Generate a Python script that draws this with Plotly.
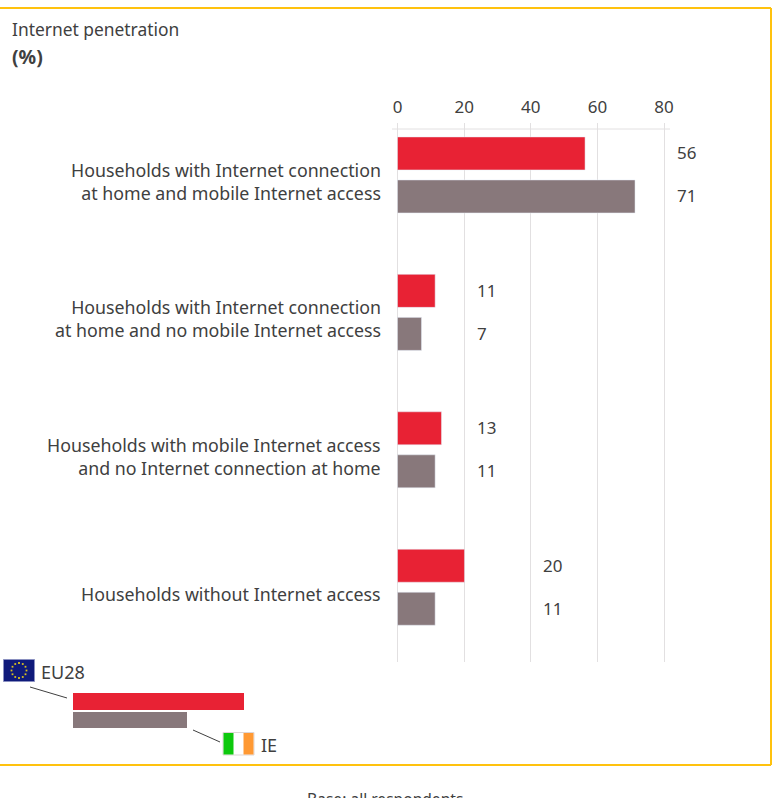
import plotly.graph_objects as go
import math

W, H = 772, 798
categories = ["Households with Internet connection<br>at home and mobile Internet access",
              "Households with Internet connection<br>at home and no mobile Internet access",
              "Households with mobile Internet access<br>and no Internet connection at home",
              "Households without Internet access"]
eu28 = [56.3, 11.3, 13.2, 20.1]
ie = [71.3, 7.2, 11.3, 11.3]
x_ticks = [0, 20, 40, 60, 80]
RED, GREY = "#E82234", "#88787B"
TXT = "#404040"
GRID = "#E2E0E1"
GOLD = "#FFC20E"
FONT = "Noto Sans"

L, R, T, B = 395, 667, 123, 662


def P(x):
    return (x - L) / (R - L)


def Q(y):
    return (B - y) / (B - T)


fig = go.Figure()
fig.add_bar(y=categories, x=eu28, orientation="h", marker=dict(color=RED), name="EU28")
fig.add_bar(y=categories, x=ie, orientation="h", marker=dict(color=GREY), name="IE")

shapes = []


def rect(x0, y0, x1, y1, fill, line=None, lw=0):
    shapes.append(dict(type="rect", xref="paper", yref="paper", x0=P(x0), x1=P(x1), y0=Q(y0), y1=Q(y1),
                       fillcolor=fill, line=dict(color=line or fill, width=lw), layer="above"))


def seg(x0, y0, x1, y1, color, w=1):
    shapes.append(dict(type="line", xref="paper", yref="paper", x0=P(x0), x1=P(x1), y0=Q(y0), y1=Q(y1),
                       line=dict(color=color, width=w), layer="above"))


# frame: top, right and bottom only
seg(0, 8, 771, 8, GOLD, 2)
seg(771, 8, 771, 765, GOLD, 2)
seg(0, 765, 771, 765, GOLD, 2)
# axis line
seg(392, 129, 670, 129, GRID, 1)
# legend key
seg(30, 687, 67, 698, "#404040", 1)
seg(193, 730, 220, 742, "#404040", 1)
rect(73, 693, 244, 710, RED)
rect(73, 712, 187, 728, GREY)
# EU flag
rect(3.5, 659.5, 34.5, 681.5, "#0F1A7A", "#8A90C0", 1)
for i in range(12):
    a = i * math.pi / 6
    cx, cy = 19 + 7.5 * math.cos(a), 670.5 + 7.5 * math.sin(a)
    rect(cx - 0.9, cy - 0.9, cx + 0.9, cy + 0.9, "#D8C020")
# IE flag
rect(223, 732.5, 254, 755, "#FFFFFF", "#DDD5D5", 1)
rect(223.5, 733, 233.5, 754.5, "#0DC90D")
rect(243.5, 733, 253.5, 754.5, "#FF9933")

ann = []


def text(x, y, s, anchor="left", size=18, bold=False):
    ann.append(dict(xref="paper", yref="paper", x=P(x), y=Q(y), text=f"<b>{s}</b>" if bold else s, showarrow=False,
                    xanchor=anchor, yanchor="middle", font=dict(family=FONT, size=size, color=TXT), align=anchor))


text(10, 28.5, "Internet penetration", size=17.4)
text(10, 56.5, "(%)", bold=True, size=19.5)
text(39, 671.5, "EU28", size=18)
text(259, 744.5, "IE", size=18)
text(385, 799, "Base: all respondents", anchor="center", size=15.6)

# category labels
for cat in categories:
    ann.append(dict(x=0, y=cat, xref="x", yref="y", text=cat, showarrow=False, xanchor="right", yanchor="middle",
                    align="right", xshift=-15, yshift=-6.5, font=dict(family=FONT, size=17.8, color=TXT)))

# value labels sit just right of the first gridline beyond the group's larger value
for cat, a, b in zip(categories, eu28, ie):
    tick = (max(a, b) // 20 + 1) * 20
    for off, v in ((22, a), (-21, b)):
        ann.append(dict(x=tick, y=cat, xref="x", yref="y", text=str(round(v)), showarrow=False, xanchor="left",
                        yanchor="middle", xshift=10.5, yshift=off, font=dict(family=FONT, size=17, color=TXT)))

fig.update_layout(
    width=W, height=H, autosize=False, showlegend=False,
    margin=dict(l=L, r=W - R, t=T, b=H - B, pad=0),
    paper_bgcolor="white", plot_bgcolor="white",
    barmode="group", bargap=0.374, bargroupgap=0.233,
    shapes=shapes, annotations=ann,
    font=dict(family=FONT, color=TXT),
    xaxis=dict(side="top", range=[-0.75, 80.9], tickvals=x_ticks, showgrid=True, gridcolor=GRID, gridwidth=1,
               zeroline=False, showline=False, ticks="outside", ticklen=2,
               tickcolor="rgba(0,0,0,0)", tickfont=dict(size=17, family=FONT, color=TXT)),
    yaxis=dict(type="category", categoryorder="array", categoryarray=categories, range=[3.544, -0.378],
               showgrid=False, showline=False, zeroline=False, showticklabels=False, ticks=""),
)
fig.write_html("out.html", post_script="document.body.style.margin='0';", config=dict(displayModeBar=False))
